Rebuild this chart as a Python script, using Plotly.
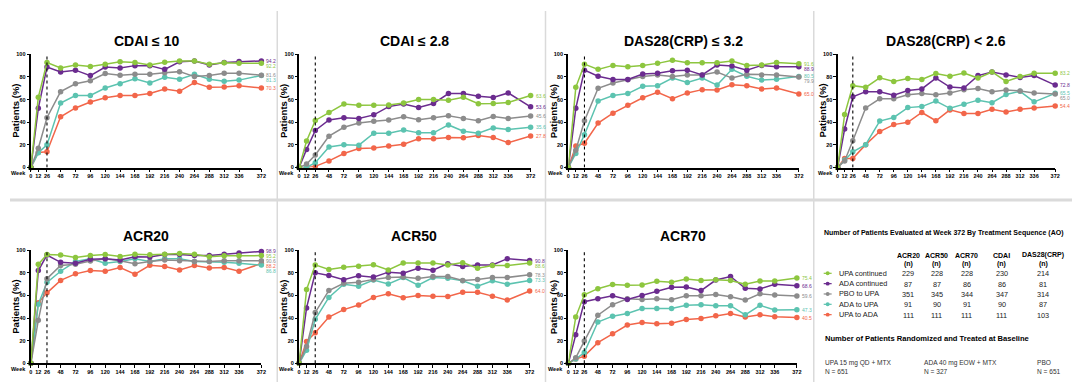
import plotly.graph_objects as go

# ---------------- data ----------------
weeks = [0, 12, 26, 48, 72, 96, 120, 144, 168, 192, 216, 240, 264, 288, 312, 336, 372]
week_labels = [str(w) for w in weeks]
y_ticks = [0, 20, 40, 60, 80, 100]
switch_week = 26

series_names = ["UPA continued", "ADA continued", "PBO to UPA", "ADA to UPA", "UPA to ADA"]
series_colors = ["#8DC63F", "#6B2C8F", "#8C8C8C", "#5CC3B0", "#F2664A"]

panel_titles = ["CDAI ≤ 10", "CDAI ≤ 2.8", "DAS28(CRP) ≤ 3.2", "DAS28(CRP) < 2.6",
                "ACR20", "ACR50", "ACR70"]

# CDAI <= 10
cdai10_upa_cont = [0, 62, 92.8, 88, 90.5, 89.3, 91.3, 93.4, 92.8, 90.5, 93, 94.2, 94, 91.3, 92.5, 92, 92.2]
cdai10_ada_cont = [0, 52.3, 88.7, 84.4, 86, 81.2, 88.7, 88, 90, 90, 86.7, 93.4, 94, 90.5, 92.8, 93.6, 94.2]
cdai10_pbo_upa = [0, 17, 44, 67, 74, 76.6, 83, 81.5, 82.4, 82.4, 83.8, 84.7, 80.3, 81.2, 83.2, 83.2, 81.6]
cdai10_ada_upa = [0, 13, 20, 57, 63.6, 63.6, 70.2, 74, 78.3, 74.6, 79.8, 78, 82.4, 78, 76.3, 77.2, 81.3]
cdai10_upa_ada = [0, 13.3, 13.9, 44.8, 52.6, 57.8, 61.6, 63.6, 63.6, 65.3, 69.4, 67.3, 75.1, 70.8, 71.1, 72.3, 70.3]

# CDAI <= 2.8
cdai28_upa_cont = [0, 23.4, 41.6, 48.6, 56, 55, 55, 55.2, 57, 60, 60, 59.5, 62, 56.4, 56.6, 57.5, 63.6]
cdai28_ada_cont = [0, 16, 32.7, 42, 44, 43.4, 46.5, 53.8, 56, 53, 56.6, 65.3, 65.3, 63, 61.8, 65.9, 53.6]
cdai28_pbo_upa = [0, 3, 11, 27.7, 35.5, 39.3, 40.8, 42, 44.8, 42.2, 44, 45.7, 43.4, 41.3, 45, 43.4, 45.6]
cdai28_ada_upa = [0, 0, 4.3, 18.2, 20.2, 19.7, 30.3, 30.3, 33.2, 30.6, 30.6, 37.6, 32, 30.3, 35, 33.5, 35.6]
cdai28_upa_ada = [0, 0, 1, 5.8, 12.4, 16.8, 17.3, 19, 20.5, 25.4, 25.4, 26.6, 26.3, 28.3, 26.6, 22, 27.8]

# DAS28(CRP) <= 3.2
das32_upa_cont = [0, 70.8, 91.3, 86.7, 90.2, 89, 90.2, 92, 94.8, 92.5, 92.5, 92.5, 94, 90.2, 90.5, 92.8, 91.6]
das32_ada_cont = [0, 52.3, 86, 80.6, 77.7, 77.7, 82.6, 83.2, 85.5, 86, 81.8, 90.5, 89.6, 86, 90.2, 89, 88.9]
das32_pbo_upa = [0, 15.3, 41.3, 70, 74.6, 77.5, 80.3, 81.8, 80.3, 81.8, 81.8, 84.4, 79, 82.4, 81.8, 81.8, 79.9]
das32_ada_upa = [0, 12.4, 29, 58.7, 63.6, 65.3, 71.7, 72.3, 79, 75.1, 79, 72.8, 86.7, 80.6, 77.2, 78, 80.5]
das32_upa_ada = [0, 19, 21.4, 39.3, 48, 55, 61.6, 66.5, 60.7, 65.9, 68.8, 68.5, 73.1, 72.3, 69.4, 70.2, 65.0]

# DAS28(CRP) < 2.6
das26_upa_cont = [0, 46.8, 72.3, 70.8, 79.2, 76, 78.6, 77.7, 83, 80.6, 83.5, 79, 84.4, 76, 80.3, 83.2, 83.2]
das26_ada_cont = [0, 34, 62.4, 67, 67, 63.9, 68, 69.4, 79, 71.1, 70.2, 81.2, 84.4, 81.8, 79.5, 81.2, 72.8]
das26_pbo_upa = [0, 5.8, 23.7, 52.6, 60.7, 60.7, 64.2, 65.3, 64.2, 65.9, 68.8, 69.7, 67, 68.5, 67.6, 65.9, 65.0]
das26_ada_upa = [0, 6.6, 13.9, 20.2, 41, 44.2, 52.9, 53.8, 58.7, 52.3, 55.8, 59.5, 57.2, 64.5, 67.3, 58, 65.5]
das26_upa_ada = [0, 8, 8, 20.2, 31.8, 37.9, 39.9, 48.6, 41.3, 50.9, 47.7, 47.7, 51.4, 49, 51.4, 52.6, 54.4]

# ACR20
acr20_upa_cont = [0, 87.5, 96.2, 95.7, 93.6, 95.4, 96.2, 94.5, 96.5, 96, 96.5, 97.1, 96.5, 94.2, 95, 95, 95.2]
acr20_ada_cont = [0, 82, 95.7, 89.3, 88.4, 91.9, 92.5, 91.3, 94.2, 93.9, 96.2, 96.2, 95.4, 95.4, 96.5, 97.4, 98.9]
acr20_pbo_upa = [0, 38, 74.8, 86.4, 87.5, 90.4, 92.5, 90.7, 88.1, 90.1, 91.3, 90.7, 89.9, 89.9, 90.7, 90.7, 90.6]
acr20_ada_upa = [0, 52.2, 71.6, 81.4, 90, 92.5, 88.4, 90, 92.5, 90.1, 92.5, 92.5, 90.1, 89.9, 89.3, 88.4, 86.8]
acr20_upa_ada = [0, 53.6, 62.3, 73.3, 79.1, 82, 81.4, 84.6, 78.8, 86.7, 85.5, 82.6, 86.4, 84.3, 84.6, 81.4, 88.2]

# ACR50
acr50_upa_cont = [0, 65.2, 87, 82.9, 84.9, 85.8, 87.2, 82.6, 88.7, 88.7, 88.7, 87, 89, 84, 86.4, 86.4, 88.6]
acr50_ada_cont = [0, 49, 80, 77.7, 73.9, 77.4, 76.2, 80.6, 79.7, 84, 82.3, 88.1, 85.5, 87, 87, 92.5, 90.8]
acr50_pbo_upa = [0, 15, 45, 64.3, 70.7, 71.6, 74.2, 75.9, 76.2, 75.1, 76.8, 76.8, 73.3, 74.2, 75.9, 75.9, 78.3]
acr50_ada_upa = [0, 11.6, 39, 58.3, 69.9, 68.1, 73.6, 70.1, 75.9, 69, 75.9, 75.1, 73, 68.1, 73, 69.9, 73.3]
acr50_upa_ada = [0, 19.4, 27, 40.9, 47.5, 51.6, 58.3, 61.4, 58, 60, 59.4, 59.1, 62.9, 62.9, 59.4, 55.9, 64.0]

# ACR70
acr70_upa_cont = [0, 40.9, 60.6, 66, 69.6, 69, 69.3, 72.5, 71.6, 74.5, 73.3, 73.9, 73.3, 69.9, 72.8, 72.8, 75.4]
acr70_ada_cont = [0, 25.2, 54.5, 57.1, 59.7, 56.5, 60, 63.8, 67.2, 67.5, 64.3, 73.6, 76.8, 66.4, 65.8, 69.9, 68.6]
acr70_pbo_upa = [0, 4.9, 19.7, 42.6, 51.9, 57.1, 56.5, 57.1, 56.2, 59.7, 59.7, 60.9, 58.8, 55.9, 61.4, 60.3, 59.6]
acr70_ada_upa = [0, 3.8, 9.6, 36.5, 41.7, 44.1, 48.4, 48.4, 48.4, 51.3, 51.9, 51, 51, 42.9, 51.3, 47.2, 47.3]
acr70_upa_ada = [0, 3.8, 6.4, 18.3, 26.1, 33.9, 36.2, 35.1, 35.4, 38.8, 39.7, 42, 44.1, 40.9, 42.9, 41.2, 40.5]

table_columns = ["ACR20", "ACR50", "ACR70", "CDAI", "DAS28(CRP)"]
table_n = [
    [229, 228, 228, 230, 214],
    [87, 87, 86, 86, 81],
    [351, 345, 344, 347, 314],
    [91, 90, 91, 90, 87],
    [111, 111, 111, 111, 103],
]
baseline_arms = ["UPA 15 mg QD + MTX", "ADA 40 mg EOW + MTX", "PBO"]
baseline_n = [651, 327, 651]

panels = [
    [cdai10_upa_cont, cdai10_ada_cont, cdai10_pbo_upa, cdai10_ada_upa, cdai10_upa_ada],
    [cdai28_upa_cont, cdai28_ada_cont, cdai28_pbo_upa, cdai28_ada_upa, cdai28_upa_ada],
    [das32_upa_cont, das32_ada_cont, das32_pbo_upa, das32_ada_upa, das32_upa_ada],
    [das26_upa_cont, das26_ada_cont, das26_pbo_upa, das26_ada_upa, das26_upa_ada],
    [acr20_upa_cont, acr20_ada_cont, acr20_pbo_upa, acr20_ada_upa, acr20_upa_ada],
    [acr50_upa_cont, acr50_ada_cont, acr50_pbo_upa, acr50_ada_upa, acr50_upa_ada],
    [acr70_upa_cont, acr70_ada_cont, acr70_pbo_upa, acr70_ada_upa, acr70_upa_ada],
]

# ---------------- layout geometry (pixels) ----------------
W, H = 1080, 382
FONT = "Liberation Sans, Arial, sans-serif"
boxes = [  # x0, x1, ytop, ybottom
    (21, 253, 44, 159), (291, 524, 44, 159), (562, 794, 44, 159), (833, 1052, 44, 159),
    (21, 253, 243, 358), (291, 523, 243, 358), (562, 792, 243, 358),
]


def fx(p):
    return p / W


def fy(p):
    return 1 - p / H


fig = go.Figure()
annotations = []
shapes = []
layout_axes = {}

for i, (box, data, title) in enumerate(zip(boxes, panels, panel_titles)):
    k = i + 1
    xa = "x" if k == 1 else f"x{k}"
    ya = "y" if k == 1 else f"y{k}"
    x0, x1, yt, yb = box
    layout_axes["xaxis" if k == 1 else f"xaxis{k}"] = dict(
        domain=[fx(x0), fx(x1)], anchor=ya, range=[0, 372],
        tickmode="array", tickvals=weeks, ticktext=week_labels,
        showline=True, linecolor="black", linewidth=1.5, ticks="outside",
        ticklen=2.5, tickwidth=1, tickcolor="black", showgrid=False, zeroline=False,
        tickfont=dict(size=5.5, family=FONT, color="black", weight="bold"),
    )
    layout_axes["yaxis" if k == 1 else f"yaxis{k}"] = dict(
        domain=[fy(yb), fy(yt)], anchor=xa, range=[0, 100],
        tickmode="array", tickvals=y_ticks,
        showline=True, linecolor="black", linewidth=1.5, ticks="outside",
        ticklen=2.5, tickwidth=1, tickcolor="black", showgrid=False, zeroline=False,
        tickfont=dict(size=5.5, family=FONT, color="black", weight="bold"),
    )
    # draw order: bottom-most first
    for j in [4, 3, 2, 1, 0]:
        fig.add_trace(go.Scatter(
            x=weeks, y=data[j], mode="lines+markers", xaxis=xa, yaxis=ya,
            line=dict(color=series_colors[j], width=1.5),
            marker=dict(color=series_colors[j], size=5.5),
            cliponaxis=False, showlegend=False, name=series_names[j],
        ))
    # switch line
    shapes.append(dict(type="line", xref=xa, yref=ya, x0=switch_week, x1=switch_week,
                       y0=0, y1=101, line=dict(color="black", width=1.1, dash="dot")))
    # title
    annotations.append(dict(text=f"<b>{title}</b>", xref="paper", yref="paper",
                            x=fx((x0 + x1) / 2), y=fy(yt - 14), showarrow=False,
                            font=dict(size=14, family=FONT, color="black"),
                            xanchor="center", yanchor="middle"))
    # y title
    annotations.append(dict(text="<b>Patients (%)</b>", xref="paper", yref="paper",
                            x=fx(x0 - 15), y=fy((yt + yb) / 2), textangle=-90,
                            showarrow=False, font=dict(size=9.5, family=FONT, color="black"),
                            xanchor="center", yanchor="middle"))
    # Week label
    annotations.append(dict(text="<b>Week</b>", xref="paper", yref="paper",
                            x=fx(x0 - 3), y=fy(yb + 5.5), showarrow=False,
                            font=dict(size=5.5, family=FONT, color="black"),
                            xanchor="right", yanchor="middle"))
    # end labels with simple de-overlap
    ends = sorted([(data[j][-1], j) for j in range(5)], reverse=True)
    ppu = (yb - yt) / 100.0
    placed = []
    for val, j in ends:
        py = yb - val * ppu
        if placed and py - placed[-1] < 5:
            py = placed[-1] + 5
        placed.append(py)
        annotations.append(dict(text=f"{val:.1f}", xref="paper", yref="paper",
                                x=fx(x1 + 3), y=fy(py), showarrow=False,
                                font=dict(size=5, family=FONT, color=series_colors[j]),
                                xanchor="left", yanchor="middle"))

# panel separators
for xp in [269, 539, 809]:
    shapes.append(dict(type="line", xref="paper", yref="paper", x0=fx(xp), x1=fx(xp),
                       y0=0, y1=1, line=dict(color="#DADADA", width=1.5)))
shapes.append(dict(type="line", xref="paper", yref="paper", x0=0, x1=1,
                   y0=fy(192), y1=fy(192), line=dict(color="#DADADA", width=3)))

# ---------------- table panel ----------------
annotations.append(dict(text="<b>Number of Patients Evaluated at Week 372 By Treatment Sequence (AO)</b>",
                        xref="paper", yref="paper", x=fx(817), y=fy(226), showarrow=False,
                        font=dict(size=7, family=FONT, color="black"), xanchor="left", yanchor="middle"))
col_x = [904, 933, 963, 998, 1040]
for cx, cname in zip(col_x, table_columns):
    annotations.append(dict(text=f"<b>{cname}</b>", xref="paper", yref="paper", x=fx(cx), y=fy(248),
                            showarrow=False, font=dict(size=7, family=FONT, color="black"),
                            xanchor="center", yanchor="middle"))
    annotations.append(dict(text="<b>(n)</b>", xref="paper", yref="paper", x=fx(cx), y=fy(257),
                            showarrow=False, font=dict(size=7, family=FONT, color="black"),
                            xanchor="center", yanchor="middle"))
row_y = [266.5, 277, 287.5, 298, 308.5]
for ry, name, color, nvals in zip(row_y, series_names, series_colors, table_n):
    shapes.append(dict(type="line", xref="paper", yref="paper", x0=fx(819), x1=fx(827),
                       y0=fy(ry), y1=fy(ry), line=dict(color=color, width=1.2)))
    shapes.append(dict(type="circle", xref="paper", yref="paper", x0=fx(821), x1=fx(825),
                       y0=fy(ry + 2), y1=fy(ry - 2), fillcolor=color, line=dict(color=color, width=0)))
    annotations.append(dict(text=name, xref="paper", yref="paper", x=fx(832), y=fy(ry),
                            showarrow=False, font=dict(size=7.3, family=FONT, color="#222"),
                            xanchor="left", yanchor="middle"))
    for cx, v in zip(col_x, nvals):
        annotations.append(dict(text=str(v), xref="paper", yref="paper", x=fx(cx), y=fy(ry + 0.5),
                                showarrow=False, font=dict(size=7.3, family=FONT, color="#222"),
                                xanchor="center", yanchor="middle"))
annotations.append(dict(text="<b>Number of Patients Randomized and Treated at Baseline</b>",
                        xref="paper", yref="paper", x=fx(818), y=fy(333), showarrow=False,
                        font=dict(size=7.6, family=FONT, color="black"), xanchor="left", yanchor="middle"))
arm_x = [818, 918, 1032]
for ax_, arm, n in zip(arm_x, baseline_arms, baseline_n):
    annotations.append(dict(text=f"{arm}<br>N = {n}", xref="paper", yref="paper", x=fx(ax_), y=fy(362),
                            showarrow=False, align="left", font=dict(size=6.6, family=FONT, color="#333"),
                            xanchor="left", yanchor="middle"))

fig.update_layout(
    width=W, height=H, margin=dict(l=0, r=0, t=0, b=0),
    paper_bgcolor="white", plot_bgcolor="white",
    annotations=annotations, shapes=shapes, showlegend=False,
    font=dict(family=FONT), **layout_axes,
)

fig.write_html("out.html")
